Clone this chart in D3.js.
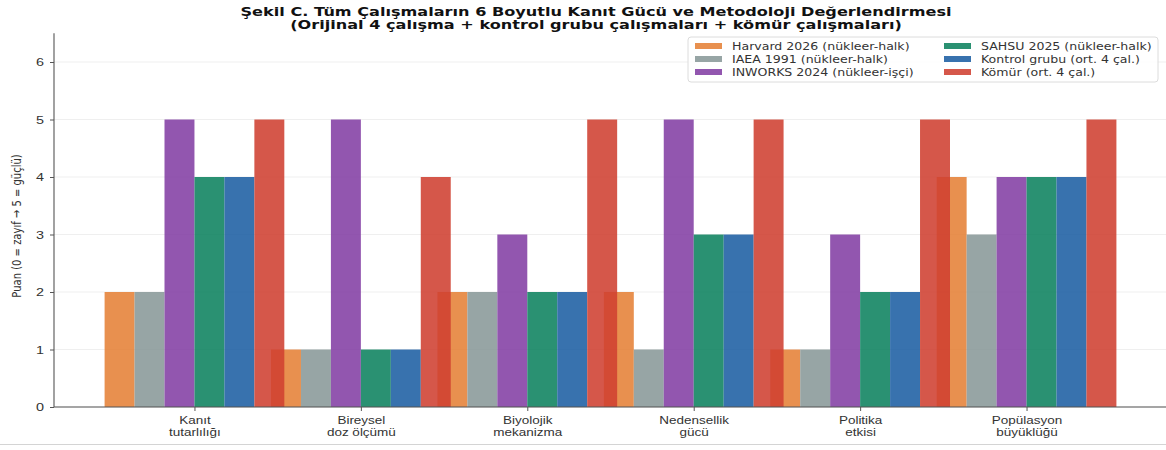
<!DOCTYPE html>
<html>
<head>
<meta charset="utf-8">
<script src="https://cdn.jsdelivr.net/npm/d3@7"></script>
<style>
body{margin:0;background:#fff;}
svg{display:block;font-family:"DejaVu Sans",sans-serif;}
</style>
</head>
<body>
<svg id="chart" width="1166" height="450"></svg>
<script>
const categories = ["Kanıt\ntutarlılığı","Bireysel\ndoz ölçümü","Biyolojik\nmekanizma","Nedensellik\ngücü","Politika\netkisi","Popülasyon\nbüyüklüğü"];
const seriesNames = ["Harvard 2026 (nükleer-halk)","IAEA 1991 (nükleer-halk)","INWORKS 2024 (nükleer-işçi)","SAHSU 2025 (nükleer-halk)","Kontrol grubu (ort. 4 çal.)","Kömür (ort. 4 çal.)"];
const harvard = [2,1,2,2,1,4];
const iaea = [2,1,2,1,1,3];
const inworks = [5,5,3,5,3,4];
const sahsu = [4,1,2,3,2,4];
const kontrol = [4,1,2,3,2,4];
const komur = [5,4,5,5,5,5];
const yTicks = [0,1,2,3,4,5,6];
const colors = ["#E58137","#899899","#833FA4","#0D825F","#1D5FA3","#CF4031"];
const titleLines = ["Şekil C. Tüm Çalışmaların 6 Boyutlu Kanıt Gücü ve Metodoloji Değerlendirmesi","(Orijinal 4 çalışma + kontrol grubu çalışmaları + kömür çalışmaları)"];
const yLabel = "Puan (0 = zayıf → 5 = güçlü)";

const series = [harvard,iaea,inworks,sahsu,kontrol,komur];
const SX = 1.31; // horizontal stretch of text in the reference
const svg = d3.select("#chart");
const mLeft = 54, mRight = 1167, mTop = 33.25, mBottom = 407;
const x = d3.scaleLinear().domain([-0.844, 5.844]).range([mLeft, mRight]);
const y = d3.scaleLinear().domain([0, 6.5]).range([mBottom, mTop]);
const barW = 0.18;

// grid
svg.append("g").selectAll("line").data(yTicks).join("line")
  .attr("x1", mLeft).attr("x2", mRight)
  .attr("y1", d => y(d)).attr("y2", d => y(d))
  .attr("stroke", "#ebebeb").attr("stroke-width", 0.8);

// bars
series.forEach((vals, si) => {
  svg.append("g").selectAll("rect").data(vals).join("rect")
    .attr("x", (d, i) => x(i + (si - 2.5) * barW - barW / 2))
    .attr("width", x(barW) - x(0))
    .attr("y", d => y(d))
    .attr("height", d => y(0) - y(d))
    .attr("fill", colors[si]).attr("fill-opacity", 0.88);
});

// y axis
const yAxis = d3.axisLeft(y).tickValues(yTicks).tickSize(4).tickFormat("");
const gy = svg.append("g").attr("transform", `translate(${mLeft},0)`).call(yAxis);
gy.select(".domain").attr("stroke", "#555").attr("stroke-width", 1.1).attr("d", `M-0,${mTop}V${mBottom}`);
gy.selectAll(".tick line").attr("stroke", "#555");
gy.selectAll(".tick").append("text")
  .attr("transform", `translate(-10,0) scale(${SX},1)`)
  .attr("text-anchor", "end").attr("dy", "0.36em")
  .attr("font-size", 11).attr("fill", "#333").text(d => d3.format("d")(d));

// x axis
const xAxis = d3.axisBottom(x).tickValues(d3.range(categories.length)).tickSize(4).tickFormat("");
const gx = svg.append("g").attr("transform", `translate(0,${mBottom})`).call(xAxis);
gx.select(".domain").attr("stroke", "#555").attr("stroke-width", 1.1).attr("d", `M${mLeft},0H${mRight}`);
gx.selectAll(".tick line").attr("stroke", "#555");
gx.selectAll(".tick").append("text")
  .attr("transform", `scale(${SX},1)`)
  .attr("text-anchor", "middle").attr("fill", "#333").attr("font-size", 10.3)
  .selectAll("tspan").data((d) => categories[d].split("\n")).join("tspan")
  .attr("x", 0).attr("y", (d, i) => 17 + i * 12.5).text(d => d);

// y label
svg.append("text").attr("transform", `translate(21,226) scale(${SX},1) rotate(-90)`)
  .attr("text-anchor", "middle").attr("font-size", 10).attr("fill", "#333").text(yLabel);

// title
svg.append("g").selectAll("text").data(titleLines).join("text")
  .attr("transform", (d, i) => `translate(596,${16 + i * 13}) scale(${SX},1)`)
  .attr("text-anchor", "middle").attr("font-size", 12.3).attr("font-weight", "bold").attr("fill", "#111")
  .text(d => d);

// legend
const lg = svg.append("g");
lg.append("rect").attr("x", 688).attr("y", 37).attr("width", 470).attr("height", 45)
  .attr("rx", 3).attr("fill", "#fff").attr("fill-opacity", 0.85).attr("stroke", "#dcdcdc");
seriesNames.forEach((name, i) => {
  const col = Math.floor(i / 3), row = i % 3;
  const lx = 695 + col * 249, ly = 46 + row * 13;
  lg.append("rect").attr("x", lx).attr("y", ly - 3).attr("width", 27).attr("height", 6)
    .attr("fill", colors[i]).attr("fill-opacity", 0.88);
  lg.append("text").attr("transform", `translate(${lx + 37},${ly + 3.5}) scale(${SX},1)`)
    .attr("font-size", 9.6).attr("fill", "#333").text(name);
});

// bottom frame edge seen in the reference
svg.append("line").attr("x1", 0).attr("x2", 1166).attr("y1", 444.5).attr("y2", 444.5)
  .attr("stroke", "#d4d4d4").attr("stroke-width", 1);
</script>
</body>
</html>
